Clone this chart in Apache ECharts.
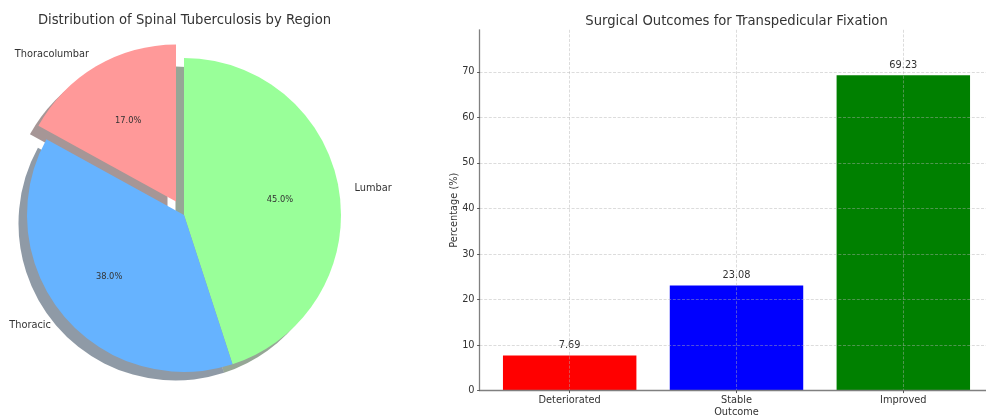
<!DOCTYPE html>
<html>
<head>
<meta charset="utf-8">
<title>Spinal tuberculosis: regions and surgical outcomes</title>
<script src="https://cdn.jsdelivr.net/npm/echarts@6/dist/echarts.min.js"></script>
<style>
  html, body { margin: 0; padding: 0; background: #ffffff; }
  #chart { width: 986px; height: 415px; }
</style>
</head>
<body>
<div id="chart"></div>
<script>
// Share of spinal tuberculosis cases by region (%)
const regions = ['Lumbar', 'Thoracic', 'Thoracolumbar'];
const regionShares = [45, 38, 17];
const regionColors = ['#99ff99', '#66b3ff', '#ff9999'];
const explodedRegion = 'Thoracolumbar';

// Surgical outcomes after transpedicular fixation (%)
const outcomes = ['Deteriorated', 'Stable', 'Improved'];
const outcomePercents = [7.69, 23.08, 69.23];
const outcomeColors = ['#ff0000', '#0000ff', '#008000'];
const percentTicks = [0, 10, 20, 30, 40, 50, 60, 70];
const outcomeTicks = [0, 1, 2];

const FONT = 'DejaVu Sans';
const TEXT = '#333333';

// Pie geometry
const PIE_C = [184, 215];
const PIE_R = 157;
const EXPLODE = 0.1 * PIE_R;
const NAME_EXPLODE = 13.7;   // pull-out used for the label layers
const PCT_EXPLODE = 12.5;
const SHADOW_DX = -8.5;
const SHADOW_DY = 8.5;

// Darkened, half-transparent copy of a colour used for the drop shadow
function shadowOf(hex) {
  const n = parseInt(hex.slice(1), 16);
  const r = (n >> 16) & 255, g = (n >> 8) & 255, b = n & 255;
  return 'rgba(' + Math.round(r * 0.3) + ',' + Math.round(g * 0.3) + ',' + Math.round(b * 0.3) + ',0.5)';
}

const shareTotal = regionShares.reduce((a, b) => a + b, 0);

function pieData(colorFn) {
  return regions.map((name, i) => ({
    name: name,
    value: regionShares[i],
    selected: name === explodedRegion,
    itemStyle: { color: colorFn(i), borderWidth: 0 }
  }));
}

const clear = () => 'rgba(0,0,0,0)';

const pieBase = {
  type: 'pie',
  startAngle: 90,
  clockwise: true,
  selectedMode: 'multiple',
  selectedOffset: EXPLODE,
  avoidLabelOverlap: false,
  silent: true,
  animation: false,
  emphasis: { disabled: true },
  label: { show: false },
  labelLine: { show: false }
};

const gridLine = { show: true, lineStyle: { color: '#b0b0b0', opacity: 0.75, width: 0.6, type: [3, 1.6] } };
const spine = { show: true, onZero: false, lineStyle: { color: '#808080', width: 1.3 } };

const option = {
  animation: false,
  backgroundColor: '#ffffff',
  textStyle: { fontFamily: FONT },
  graphic: [
    {
      type: 'text', x: 184.5, y: 20.4, silent: true,
      style: {
        text: 'Distribution of Spinal Tuberculosis by Region',
        font: '13.2px "DejaVu Sans"', fill: TEXT,
        textAlign: 'center', textVerticalAlign: 'middle'
      }
    },
    {
      type: 'text', x: 736.5, y: 21.4, silent: true,
      style: {
        text: 'Surgical Outcomes for Transpedicular Fixation',
        font: '13.2px "DejaVu Sans"', fill: TEXT,
        textAlign: 'center', textVerticalAlign: 'middle'
      }
    }
  ],
  grid: [{
    left: 479.6, top: 29.8, width: 513.8, height: 360.8,
    outerBoundsMode: 'none', containLabel: false
  }],
  xAxis: [{
    type: 'value',
    min: -0.54,
    max: 2.54,
    z: 4,
    name: 'Outcome',
    nameLocation: 'middle',
    nameGap: 17,
    nameMoveOverlap: false,
    nameTextStyle: { fontSize: 9.8, color: TEXT, fontFamily: FONT },
    axisLine: spine,
    axisTick: { show: true, customValues: outcomeTicks, length: 2.5, lineStyle: { color: '#333333', width: 0.8 } },
    axisLabel: {
      customValues: outcomeTicks, margin: 5, fontSize: 9.8, color: TEXT, fontFamily: FONT,
      formatter: v => outcomes[Math.round(v)]
    },
    splitLine: gridLine
  }],
  yAxis: [{
    type: 'value',
    min: 0,
    max: 79.23,
    z: 4,
    name: 'Percentage (%)',
    nameLocation: 'middle',
    nameGap: 20,
    nameMoveOverlap: false,
    nameTextStyle: { fontSize: 9.8, color: TEXT, fontFamily: FONT },
    axisLine: spine,
    axisTick: { show: true, customValues: percentTicks, length: 2.5, lineStyle: { color: '#333333', width: 0.8 } },
    axisLabel: { customValues: percentTicks, margin: 5, fontSize: 9.8, color: TEXT, fontFamily: FONT },
    splitLine: gridLine
  }],
  series: [
    // drop shadow beneath the wedges
    Object.assign({}, pieBase, {
      name: 'shadow',
      z: 1,
      center: [PIE_C[0] + SHADOW_DX, PIE_C[1] + SHADOW_DY],
      radius: PIE_R,
      data: pieData(i => shadowOf(regionColors[i]))
    }),
    // the wedges
    Object.assign({}, pieBase, {
      name: 'Region',
      z: 2,
      center: PIE_C,
      radius: PIE_R,
      data: pieData(i => regionColors[i])
    }),
    // region names just outside the rim
    Object.assign({}, pieBase, {
      name: 'Region names',
      z: 3,
      center: PIE_C,
      radius: PIE_R,
      selectedOffset: NAME_EXPLODE,
      label: {
        show: true, position: 'outside', distanceToLabelLine: 0,
        fontSize: 9.8, color: TEXT, fontFamily: FONT,
        formatter: p => p.name
      },
      labelLine: { show: false, length: 0.1 * PIE_R, length2: 0 },
      data: pieData(clear)
    }),
    // percentages at 0.6 of the radius
    Object.assign({}, pieBase, {
      name: 'Share',
      z: 3,
      center: PIE_C,
      radius: [0, 1.2 * PIE_R],
      selectedOffset: PCT_EXPLODE,
      label: {
        show: true, position: 'inside',
        fontSize: 8.3, color: TEXT, fontFamily: FONT,
        formatter: p => (p.value / shareTotal * 100).toFixed(1) + '%'
      },
      data: pieData(clear)
    }),
    {
      type: 'bar',
      name: 'Outcome',
      xAxisIndex: 0,
      yAxisIndex: 0,
      barWidth: '80%',
      z: 2,
      label: {
        show: true, position: 'top', distance: 5,
        fontSize: 9.8, color: TEXT, fontFamily: FONT,
        formatter: p => p.value[1].toFixed(2)
      },
      data: outcomePercents.map((v, i) => ({
        value: [i, v],
        itemStyle: { color: outcomeColors[i] }
      }))
    }
  ]
};

const chart = echarts.init(document.getElementById('chart'), null, { renderer: 'canvas' });
chart.setOption(option);
</script>
</body>
</html>
